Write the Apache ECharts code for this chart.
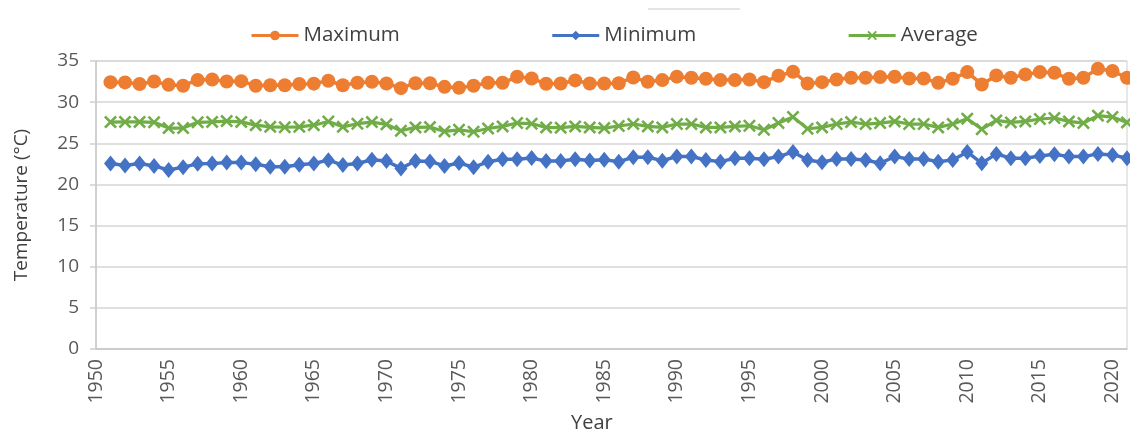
<!DOCTYPE html>
<html>
<head>
<meta charset="utf-8">
<script src="https://cdn.jsdelivr.net/npm/echarts@6/dist/echarts.min.js"></script>
<style>html,body{margin:0;padding:0;background:#fff;}#c{width:1130px;height:437px;}</style>
</head>
<body>
<div id="c"></div>
<script>
const years = [1951,1952,1953,1954,1955,1956,1957,1958,1959,1960,1961,1962,1963,1964,1965,1966,1967,1968,1969,1970,1971,1972,1973,1974,1975,1976,1977,1978,1979,1980,1981,1982,1983,1984,1985,1986,1987,1988,1989,1990,1991,1992,1993,1994,1995,1996,1997,1998,1999,2000,2001,2002,2003,2004,2005,2006,2007,2008,2009,2010,2011,2012,2013,2014,2015,2016,2017,2018,2019,2020,2021];
const maximum = [32.43,32.4,32.2,32.5,32.1,32.0,32.7,32.75,32.5,32.55,32.0,32.05,32.05,32.2,32.25,32.6,32.05,32.35,32.47,32.27,31.7,32.3,32.3,31.86,31.74,32.0,32.35,32.35,33.08,32.88,32.23,32.27,32.64,32.27,32.27,32.3,33.0,32.47,32.68,33.1,32.96,32.84,32.68,32.68,32.76,32.43,33.2,33.7,32.27,32.43,32.76,32.96,32.96,33.05,33.08,32.88,32.88,32.35,32.84,33.65,32.15,33.25,32.96,33.37,33.65,33.57,32.84,32.96,34.06,33.78,32.96];
const minimum = [22.53,22.3,22.55,22.25,21.75,22.1,22.5,22.55,22.65,22.65,22.45,22.15,22.15,22.4,22.55,22.95,22.35,22.55,23.0,22.85,21.95,22.85,22.8,22.25,22.6,22.1,22.75,23.05,23.05,23.2,22.85,22.85,23.05,22.9,23.0,22.77,23.3,23.3,22.89,23.4,23.4,22.97,22.77,23.18,23.18,23.06,23.38,23.95,22.97,22.69,23.1,23.1,22.97,22.57,23.38,23.1,23.1,22.77,22.97,23.95,22.57,23.71,23.18,23.18,23.46,23.67,23.38,23.38,23.71,23.59,23.18];
const average = [27.58,27.6,27.6,27.55,26.85,26.85,27.55,27.6,27.7,27.6,27.2,27.0,26.95,27.0,27.2,27.65,27.0,27.38,27.58,27.3,26.52,26.93,26.97,26.44,26.64,26.4,26.8,27.05,27.46,27.38,26.93,26.9,27.05,26.93,26.85,27.1,27.34,27.05,26.93,27.34,27.34,26.93,26.93,27.05,27.13,26.64,27.46,28.19,26.77,26.93,27.34,27.58,27.34,27.46,27.66,27.34,27.34,26.93,27.34,27.99,26.72,27.78,27.54,27.66,27.95,28.07,27.66,27.46,28.36,28.19,27.54];
const yTicks = [0,5,10,15,20,25,30,35];

const FONT = 'Open Sans';
const pair = arr => years.map((y, i) => [y, arr[i]]);
const xSym = 'path://M0,1.4 L1.4,0 L5,3.6 L8.6,0 L10,1.4 L6.4,5 L10,8.6 L8.6,10 L5,6.4 L1.4,10 L0,8.6 L3.6,5 Z';

const chart = echarts.init(document.getElementById('c'), null, {renderer: 'canvas'});
chart.setOption({
  backgroundColor: '#ffffff',
  animation: false,
  legend: {
    top: 20, left: 245,
    itemWidth: 47, itemHeight: 12, itemGap: 151,
    lineStyle: {width: 3},
    textStyle: {fontFamily: FONT, fontSize: 20.5, color: '#404040'},
    data: ['Maximum', 'Minimum', 'Average']
  },
  graphic: [
    {type: 'rect', shape: {x: 648, y: 8, width: 92, height: 2}, style: {fill: '#e4e4e4'}},
    {type: 'text', left: 571, top: 413, style: {text: 'Year', fontFamily: FONT, fontSize: 20, fill: '#404040'}}
  ],
  grid: {left: 96, right: 3, top: 61, bottom: 88, show: true, borderColor: '#d0d0d0', borderWidth: 1},
  xAxis: {
    type: 'value', min: 1950, max: 2021, interval: 5,
    axisLine: {show: true, lineStyle: {color: '#c8c8c8', width: 1.5}},
    axisTick: {show: false},
    splitLine: {show: false},
    axisLabel: {rotate: 90, margin: 10, fontFamily: FONT, fontSize: 19.5, color: '#595959',
      formatter: v => String(v), showMaxLabel: false}
  },
  yAxis: {
    type: 'value', min: 0, max: 35, interval: 5,
    name: 'Temperature (°C)', nameLocation: 'middle', nameGap: 65,
    nameTextStyle: {fontFamily: FONT, fontSize: 19, color: '#404040'},
    axisLine: {show: true, lineStyle: {color: '#c8c8c8', width: 1.5}},
    axisTick: {show: true, length: 6, lineStyle: {color: '#d0d0d0', width: 1.5}},
    splitLine: {show: true, lineStyle: {color: '#d6d6d6', width: 1.5}},
    axisLabel: {margin: 17, fontFamily: FONT, fontSize: 19, color: '#595959',
      formatter: v => yTicks.includes(v) ? String(v) : ''}
  },
  series: [
    {name: 'Maximum', type: 'line', data: pair(maximum), symbol: 'circle', symbolSize: 14,
      lineStyle: {color: '#ed7d31', width: 3.5}, itemStyle: {color: '#ed7d31'}},
    {name: 'Minimum', type: 'line', data: pair(minimum), symbol: 'diamond', symbolSize: [13, 16],
      lineStyle: {color: '#4472c4', width: 3.5}, itemStyle: {color: '#4472c4'}},
    {name: 'Average', type: 'line', data: pair(average), symbol: xSym, symbolSize: 13,
      lineStyle: {color: '#70ad47', width: 3.2}, itemStyle: {color: '#70ad47'}}
  ]
});
</script>
</body>
</html>
